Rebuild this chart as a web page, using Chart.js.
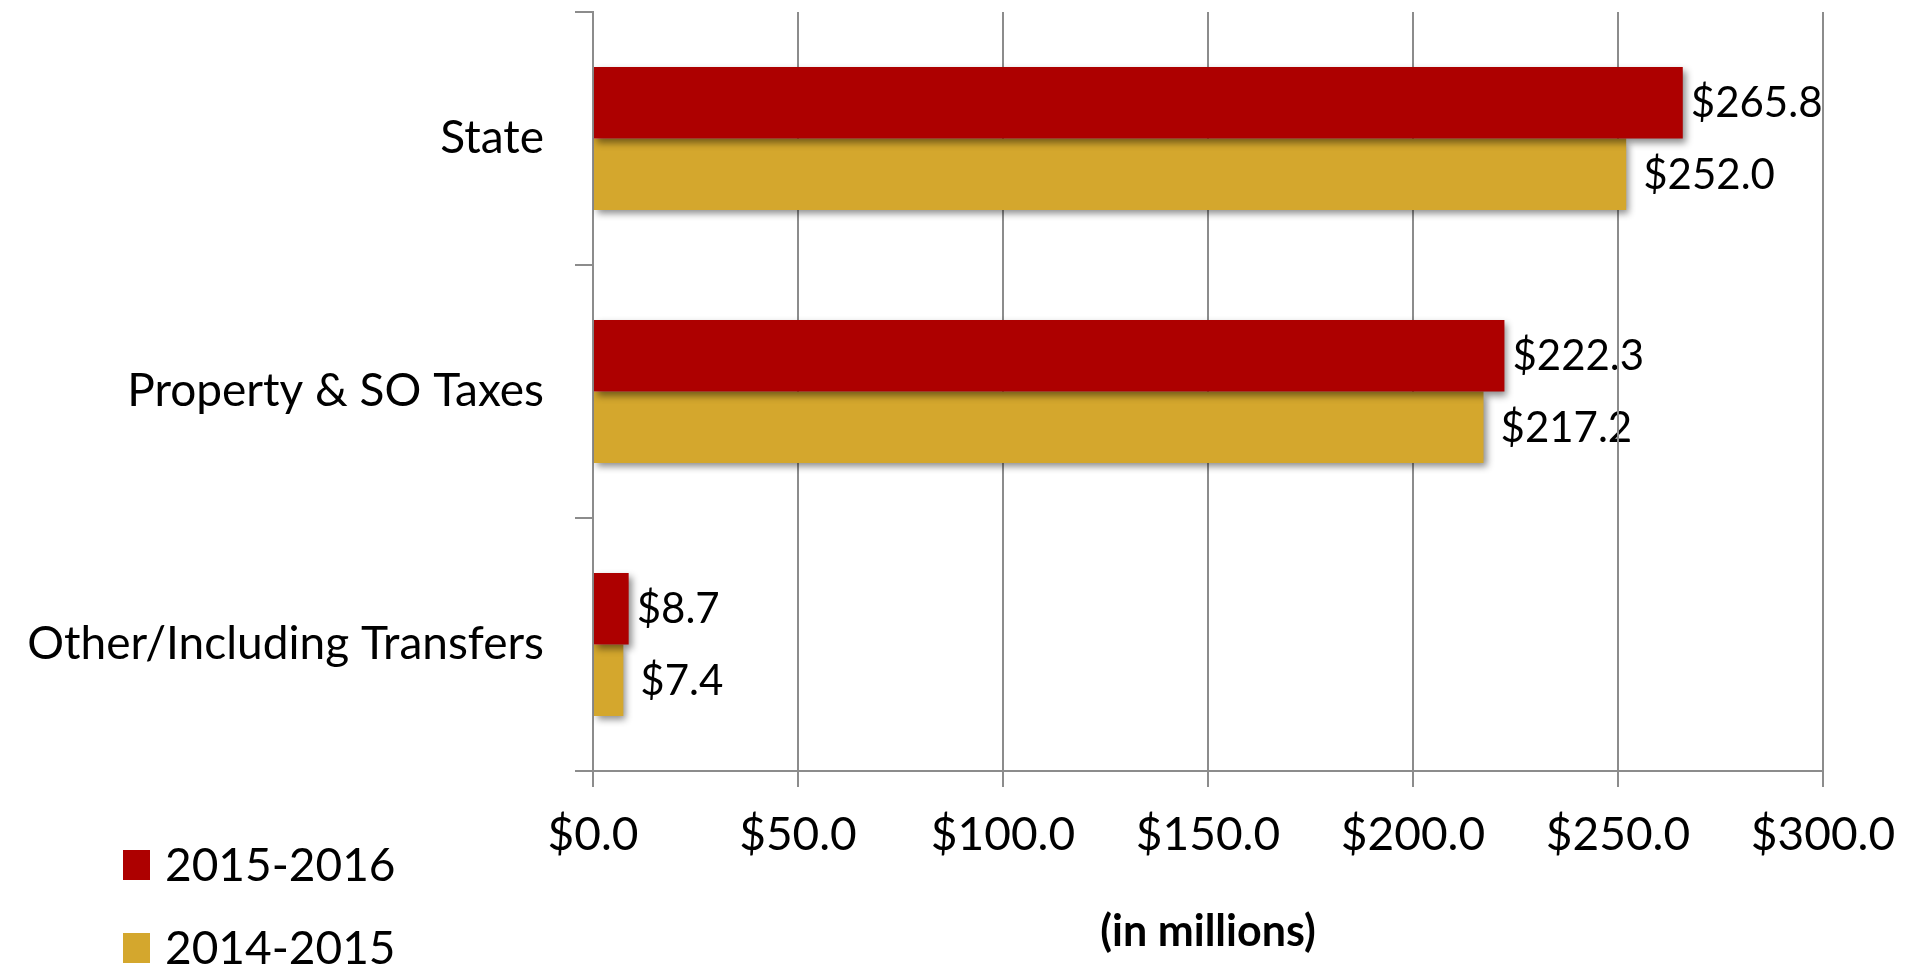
<!DOCTYPE html>
<html>
<head>
<meta charset="utf-8">
<script src="https://cdn.jsdelivr.net/npm/chart.js@4"></script>
<style>
  html, body { margin: 0; padding: 0; background: #ffffff; }
  #wrap { position: relative; width: 1921px; height: 970px; }
</style>
</head>
<body>
<div id="wrap"><canvas id="revenueChart" width="1921" height="970"></canvas></div>
<script>
/* ===============================
   DATA
================================= */

const categories = ["State", "Property & SO Taxes", "Other/Including Transfers"];
const fy2016 = [265.8, 222.3, 8.7];
const fy2015 = [252.0, 217.2, 7.4];
const seriesLabels = ["2015-2016", "2014-2015"];
const xTickValues = [0, 50, 100, 150, 200, 250, 300];

const RED = "#ad0000";
const GOLD = "#d4a72d";
const GRID = "#8c8c8c";
const FONT = "Lato, sans-serif";

function money(v) {
  return "$" + Number(v).toFixed(1);
}

/* ===============================
   PLUGINS
================================= */

// value labels go under the gridlines, so paint them before the scales
const valueLabels = {
  id: "valueLabels",
  beforeDraw(chart) {
    const { ctx } = chart;
    const gaps = [8, 17];
    ctx.save();
    ctx.font = "42px " + FONT;
    ctx.fillStyle = "#000";
    ctx.textAlign = "left";
    ctx.textBaseline = "middle";
    chart.data.datasets.forEach((ds, di) => {
      chart.getDatasetMeta(di).data.forEach((bar, i) => {
        ctx.fillText(money(ds.data[i]), bar.x + gaps[di], bar.y + 1);
      });
    });
    ctx.restore();
  }
};

// soft drop shadow under the bars
const barShadow = {
  id: "barShadow",
  beforeDatasetsDraw(chart) {
    const { ctx } = chart;
    ctx.save();
    ctx.shadowColor = "rgba(0,0,0,0.45)";
    ctx.shadowBlur = 7;
    ctx.shadowOffsetX = 3;
    ctx.shadowOffsetY = 4;
  },
  afterDatasetsDraw(chart) {
    chart.ctx.restore();
  }
};

// stacked legend in the lower left corner
const cornerLegend = {
  id: "cornerLegend",
  afterDraw(chart) {
    const { ctx } = chart;
    const rows = [865, 948];
    ctx.save();
    ctx.font = "46px " + FONT;
    ctx.textBaseline = "middle";
    ctx.textAlign = "left";
    chart.data.datasets.forEach((ds, i) => {
      ctx.fillStyle = ds.backgroundColor;
      ctx.fillRect(123, rows[i] - 15, 27, 30);
      ctx.fillStyle = "#000";
      ctx.fillText(ds.label, 165, rows[i] + 1);
    });
    ctx.restore();
  }
};

/* ===============================
   CHART
================================= */

new Chart(document.getElementById("revenueChart"), {
  type: "bar",
  data: {
    labels: categories,
    datasets: [
      {
        label: seriesLabels[0],
        data: fy2016,
        backgroundColor: RED,
        categoryPercentage: 0.565,
        barPercentage: 1
      },
      {
        label: seriesLabels[1],
        data: fy2015,
        backgroundColor: GOLD,
        categoryPercentage: 0.565,
        barPercentage: 1
      }
    ]
  },
  options: {
    indexAxis: "y",
    responsive: false,
    animation: false,
    layout: { padding: { top: 12, right: 98, bottom: 0, left: 0 } },
    plugins: {
      legend: { display: false },
      tooltip: { enabled: false }
    },
    scales: {
      x: {
        min: 0,
        max: 300,
        afterBuildTicks(scale) {
          scale.ticks = xTickValues.map(v => ({ value: v }));
        },
        afterFit(scale) {
          scale.height = 199;
        },
        ticks: {
          color: "#000",
          font: { family: FONT, size: 46 },
          padding: 21,
          callback: v => money(v)
        },
        grid: {
          color: GRID,
          lineWidth: 2,
          tickLength: 16,
          tickColor: GRID
        },
        border: { color: GRID, width: 2 },
        title: {
          display: true,
          text: "(in millions)",
          color: "#000",
          font: { family: FONT, size: 43, weight: "bold" },
          padding: { top: 0, bottom: 12 }
        }
      },
      y: {
        afterFit(scale) {
          scale.width = 593;
          scale.paddingTop = 0;
          scale.paddingBottom = 0;
        },
        ticks: {
          color: "#000",
          font: { family: FONT, size: 46 },
          padding: 31
        },
        grid: {
          offset: true,
          drawOnChartArea: false,
          color: GRID,
          lineWidth: 2,
          tickLength: 18
        },
        border: { color: GRID, width: 2 }
      }
    }
  },
  plugins: [valueLabels, barShadow, cornerLegend]
});
</script>
</body>
</html>
